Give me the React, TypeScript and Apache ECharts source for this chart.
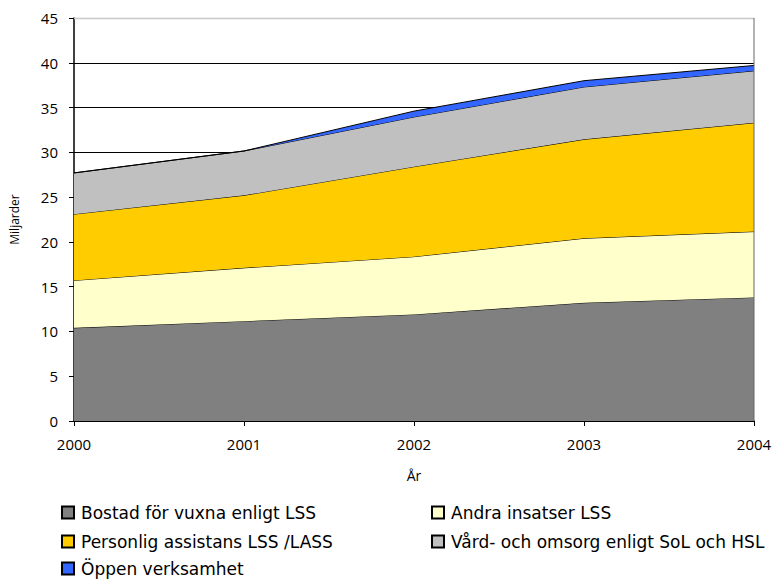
import React, { useEffect, useRef } from "react";
import * as echarts from "echarts";

const years = ["2000", "2001", "2002", "2003", "2004"];
const seriesNames = [
  "Bostad för vuxna enligt LSS",
  "Andra insatser LSS",
  "Personlig assistans LSS /LASS",
  "Vård- och omsorg enligt SoL och HSL",
  "Öppen verksamhet",
];
const bostad = [10.4, 11.15, 11.9, 13.2, 13.8];
const andra = [5.3, 5.95, 6.45, 7.2, 7.35];
const personlig = [7.4, 8.1, 10.05, 11.05, 12.15];
const vard = [4.6, 4.95, 5.55, 5.85, 5.8];
const oppen = [0, 0, 0.65, 0.7, 0.6];
const colors = ["#808080", "#FFFFCC", "#FFCC00", "#C0C0C0", "#3366FF"];

const FONT = "Open Sans";
const LEGEND_FONT = "DejaVu Sans";

export default function App() {
  const ref = useRef<HTMLDivElement>(null);
  useEffect(() => {
    if (!ref.current) return;
    const chart = echarts.init(ref.current, null, { renderer: "svg" });
    const values = [bostad, andra, personlig, vard, oppen];
    const legendPos = [
      { left: 61, top: 504 },
      { left: 431, top: 504 },
      { left: 61, top: 533 },
      { left: 431, top: 533 },
      { left: 61, top: 560 },
    ];
    chart.setOption({
      animation: false,
      backgroundColor: "#fff",
      textStyle: { fontFamily: FONT },
      grid: { left: 74, right: 27, top: 18, bottom: 159, show: false },
      legend: seriesNames.map((n, i) => ({
        data: [n],
        left: legendPos[i].left,
        top: legendPos[i].top,
        orient: "horizontal",
        icon: "rect",
        itemWidth: 12,
        itemHeight: 12,
        itemGap: 5,
        padding: 0,
        selectedMode: false,
        textStyle: { fontFamily: LEGEND_FONT, fontSize: 17, color: "#000", padding: [0, 0, 0, 2] },
      })),
      xAxis: {
        type: "category",
        data: years,
        boundaryGap: false,
        name: "År",
        nameLocation: "middle",
        nameGap: 47,
        nameTextStyle: { fontFamily: FONT, fontSize: 14, color: "#000" },
        axisLine: { lineStyle: { color: "#000", width: 1.5 } },
        axisTick: { show: true, length: 5, lineStyle: { color: "#000" } },
        axisLabel: { fontFamily: FONT, fontSize: 15, color: "#000", margin: 15 },
        splitLine: { show: false },
      },
      yAxis: {
        type: "value",
        min: 0,
        max: 45,
        interval: 5,
        name: "Miljarder",
        nameLocation: "middle",
        nameGap: 54,
        nameTextStyle: { fontFamily: FONT, fontSize: 12, color: "#000" },
        axisLine: { show: true, lineStyle: { color: "#000", width: 1.5 } },
        axisTick: { show: true, length: 5, lineStyle: { color: "#000" } },
        axisLabel: { fontFamily: FONT, fontSize: 15, color: "#000", margin: 16 },
        splitLine: { show: true, lineStyle: { color: "#000", width: 1 } },
      },
      series: seriesNames.map((n, i) => ({
        name: n,
        type: "line",
        stack: "total",
        data: values[i],
        symbol: "none",
        smooth: false,
        color: colors[i],
        lineStyle: { color: "#000", width: 1 },
        areaStyle: { color: colors[i], opacity: 1 },
        itemStyle: { color: colors[i], borderColor: "#000", borderWidth: 1 },
        z: 2 + i,
      })),
      graphic: [
        {
          type: "line",
          shape: { x1: 74, y1: 18.5, x2: 754, y2: 18.5 },
          style: { stroke: "#c8c8c8", lineWidth: 1.5 },
          z: 100,
        },
        {
          type: "line",
          shape: { x1: 754, y1: 18, x2: 754, y2: 421 },
          style: { stroke: "#666", lineWidth: 1 },
          z: 100,
        },
      ],
    });
    return () => chart.dispose();
  }, []);
  return (
    <div
      ref={ref}
      style={{ position: "absolute", left: 0, top: 0, width: 781, height: 580 }}
    />
  );
}
